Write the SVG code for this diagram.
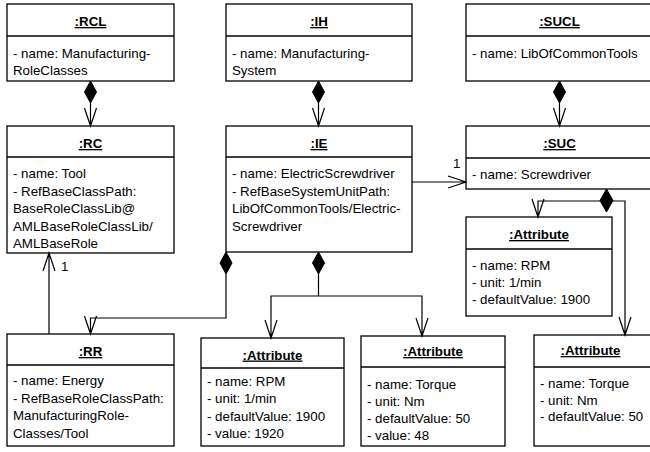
<svg xmlns="http://www.w3.org/2000/svg" width="650" height="452" viewBox="0 0 650 452">
<style>
.box{fill:#fff;stroke:#000;stroke-width:1.3}
.div{stroke:#000;stroke-width:1.3}
.t{font-family:"Liberation Sans",Arial,sans-serif;font-size:13.3px;fill:#000}
.h{font-family:"Liberation Sans",Arial,sans-serif;font-size:13.3px;font-weight:bold;text-anchor:middle;text-decoration:underline;fill:#000}
.c{fill:none;stroke:#000;stroke-width:1.2}
.dia{fill:#000;stroke:#000;stroke-width:1}
</style>
<rect width="650" height="452" fill="#fff"/>
<g id="RCL">
<rect class="box" x="7" y="4" width="167" height="77"/><line class="div" x1="7" y1="36" x2="174" y2="36"/>
<text class="h" x="90.5" y="26">:RCL</text>
<text class="t" x="13" y="58">- name: Manufacturing-</text>
<text class="t" x="13" y="75">RoleClasses</text>
</g>
<g id="IH">
<rect class="box" x="226" y="4" width="186" height="77"/><line class="div" x1="226" y1="36" x2="412" y2="36"/>
<text class="h" x="319" y="26">:IH</text>
<text class="t" x="232" y="58">- name: Manufacturing-</text>
<text class="t" x="232" y="75">System</text>
</g>
<g id="SUCL">
<rect class="box" x="466" y="4" width="190" height="77"/><line class="div" x1="466" y1="36" x2="656" y2="36"/>
<text class="h" x="559.5" y="26">:SUCL</text>
<text class="t" x="472" y="58">- name: LibOfCommonTools</text>
</g>
<g id="RC">
<rect class="box" x="7" y="126" width="167" height="127"/><line class="div" x1="7" y1="157" x2="174" y2="157"/>
<text class="h" x="90.5" y="148">:RC</text>
<text class="t" x="13" y="178">- name: Tool</text>
<text class="t" x="13" y="195.5">- RefBaseClassPath:</text>
<text class="t" x="13" y="213">BaseRoleClassLib@</text>
<text class="t" x="13" y="230.5">AMLBaseRoleClassLib/</text>
<text class="t" x="13" y="248">AMLBaseRole</text>
</g>
<g id="IE">
<rect class="box" x="226" y="126" width="186" height="126"/><line class="div" x1="226" y1="157" x2="412" y2="157"/>
<text class="h" x="319" y="148">:IE</text>
<text class="t" x="232" y="178">- name: ElectricScrewdriver</text>
<text class="t" x="232" y="195.5">- RefBaseSystemUnitPath:</text>
<text class="t" x="232" y="213">LibOfCommonTools/Electric-</text>
<text class="t" x="232" y="230.5">Screwdriver</text>
</g>
<g id="SUC">
<rect class="box" x="466" y="126" width="190" height="63"/><line class="div" x1="466" y1="158" x2="656" y2="158"/>
<text class="h" x="559.5" y="148">:SUC</text>
<text class="t" x="472" y="178.5">- name: Screwdriver</text>
</g>
<g id="SUCAttribute">
<rect class="box" x="466" y="217" width="146" height="99"/><line class="div" x1="466" y1="249" x2="612" y2="249"/>
<text class="h" x="539" y="239">:Attribute</text>
<text class="t" x="472" y="269.5">- name: RPM</text>
<text class="t" x="472" y="286.5">- unit: 1/min</text>
<text class="t" x="472" y="304">- defaultValue: 1900</text>
</g>
<g id="RR">
<rect class="box" x="7" y="334" width="167" height="112"/><line class="div" x1="7" y1="365" x2="174" y2="365"/>
<text class="h" x="90.5" y="356">:RR</text>
<text class="t" x="13" y="385">- name: Energy</text>
<text class="t" x="13" y="402.5">- RefBaseRoleClassPath:</text>
<text class="t" x="13" y="420">ManufacturingRole-</text>
<text class="t" x="13" y="437.5">Classes/Tool</text>
</g>
<g id="Attribute1">
<rect class="box" x="201" y="338" width="143" height="108"/><line class="div" x1="201" y1="368" x2="344" y2="368"/>
<text class="h" x="272.5" y="359.5">:Attribute</text>
<text class="t" x="207" y="386">- name: RPM</text>
<text class="t" x="207" y="403">- unit: 1/min</text>
<text class="t" x="207" y="420.5">- defaultValue: 1900</text>
<text class="t" x="207" y="437.5">- value: 1920</text>
</g>
<g id="Attribute2">
<rect class="box" x="361" y="336" width="144" height="110"/><line class="div" x1="361" y1="367" x2="505" y2="367"/>
<text class="h" x="433" y="356">:Attribute</text>
<text class="t" x="367" y="389">- name: Torque</text>
<text class="t" x="367" y="406">- unit: Nm</text>
<text class="t" x="367" y="423">- defaultValue: 50</text>
<text class="t" x="367" y="440">- value: 48</text>
</g>
<g id="Attribute3">
<rect class="box" x="534" y="335" width="122" height="111"/><line class="div" x1="534" y1="367" x2="656" y2="367"/>
<text class="h" x="590.5" y="355">:Attribute</text>
<text class="t" x="540" y="388">- name: Torque</text>
<text class="t" x="540" y="404.5">- unit: Nm</text>
<text class="t" x="540" y="421">- defaultValue: 50</text>
</g>
<g id="connectors">
<!-- RCL -> RC -->
<path class="c" d="M90.5,103 V126 M84.5,108 L90.5,126 L96.5,108"/>
<path class="dia" d="M90.5,81 L96.5,92 L90.5,103 L84.5,92 Z"/>
<!-- IH -> IE -->
<path class="c" d="M318.5,103 V126 M312.5,108 L318.5,126 L324.5,108"/>
<path class="dia" d="M318.5,81 L324.5,92 L318.5,103 L312.5,92 Z"/>
<!-- SUCL -> SUC -->
<path class="c" d="M559.5,103 V126 M553.5,108 L559.5,126 L565.5,108"/>
<path class="dia" d="M559.5,81 L565.5,92 L559.5,103 L553.5,92 Z"/>
<!-- IE -> RR -->
<path class="c" d="M226,274 V318 H90.5 V334 M84.5,316 L90.5,334 L96.5,316"/>
<path class="dia" d="M226,252 L232,263 L226,274 L220,263 Z"/>
<!-- IE -> Attribute1/2 -->
<path class="c" d="M318.5,274 V296 M271,338 V296 H422 V336 M265,320 L271,338 L277,320 M416,318 L422,336 L428,318"/>
<path class="dia" d="M318.5,252 L324.5,263 L318.5,274 L312.5,263 Z"/>
<!-- RR -> RC -->
<path class="c" d="M49,334 V253 M43,271 L49,253 L55,271"/>
<text class="t" x="61" y="270.5">1</text>
<!-- IE -> SUC -->
<path class="c" d="M412,182 H466 M448,176 L466,182 L448,188"/>
<text class="t" x="453" y="167.5">1</text>
<!-- SUC -> SUC Attribute / Attribute3 -->
<path class="c" d="M538,217 V201 H625 V335 M532,199 L538,217 L544,199 M619,317 L625,335 L631,317"/>
<path class="dia" d="M606.5,189 L613,200.5 L606.5,212 L600,200.5 Z"/>
</g>
</svg>
